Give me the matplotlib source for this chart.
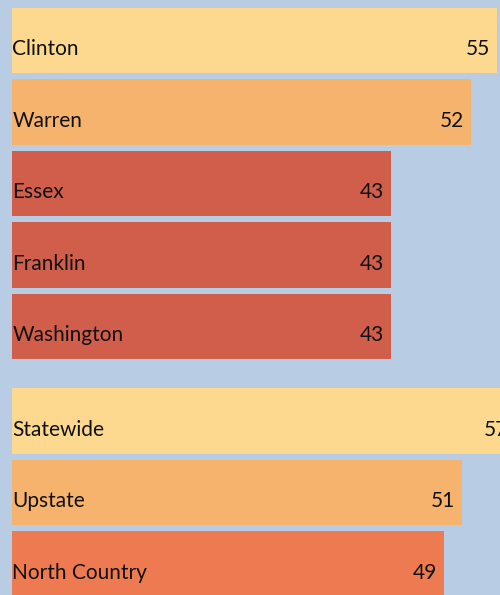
import matplotlib
matplotlib.use("Agg")
import matplotlib.pyplot as plt

names = ["Clinton", "Warren", "Essex", "Franklin", "Washington",
         "Statewide", "Upstate", "North Country"]
values = [55, 52, 43, 43, 43, 57, 51, 49]
group_sizes = [5, 3]
colors = ["#FCD98F", "#F6B36D", "#D05E4B", "#D05E4B", "#D05E4B",
          "#FCD98F", "#F6B36D", "#ED7A50"]
bg = "#B8CCE4"

# positions: rows with an extra gap between groups
positions = []
pos = 0.0
for gi, n in enumerate(group_sizes):
    for i in range(n):
        positions.append(pos)
        pos += 1
    pos += 0.32

plt.rcParams['font.family'] = ['Lato', 'DejaVu Sans']
fig = plt.figure(figsize=(5.0, 5.95), dpi=100, facecolor=bg)
ax = fig.add_axes([0, 0, 1, 1])
ax.set_facecolor(bg)
ax.barh(positions, values, height=0.916, color=colors, linewidth=0)
ax.set_xlim(-12 / 8.82, 488 / 8.82)
ax.set_ylim(positions[-1] + 0.43, -0.566)
ax.axis('off')

for y, n, v in zip(positions, names, values):
    ax.text(0.05, y + 0.203, n, ha='left', va='baseline', fontsize=15, color='#111111')
    ax.text(v - 0.8, y + 0.203, str(v), ha='right', va='baseline', fontsize=15, color='#111111')

fig.savefig("out.png", dpi=100, facecolor=bg)
